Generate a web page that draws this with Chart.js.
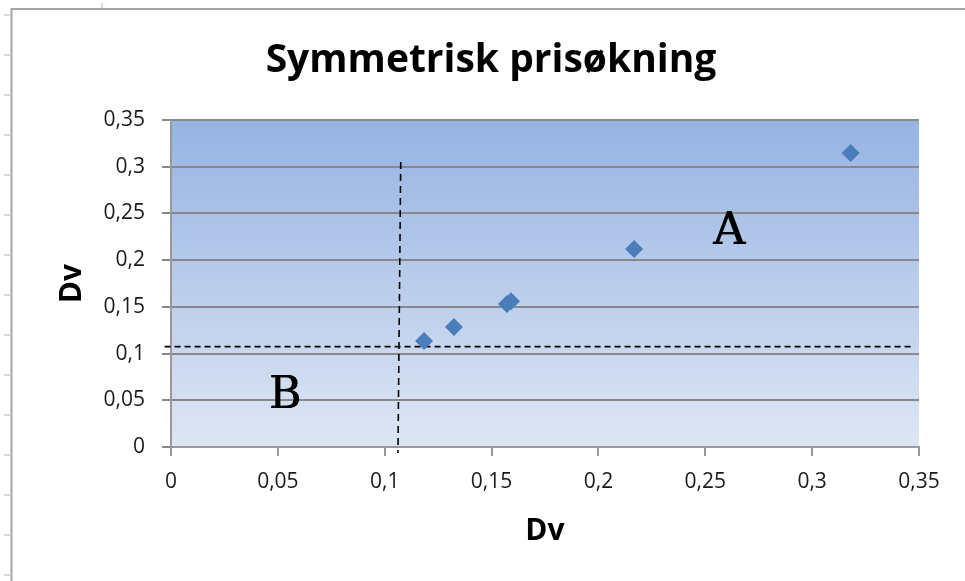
<!DOCTYPE html>
<html>
<head>
<meta charset="utf-8">
<title>Symmetrisk prisøkning</title>
<script src="https://cdn.jsdelivr.net/npm/chart.js@4.4.1/dist/chart.umd.min.js"></script>
<style>
  html, body { margin: 0; padding: 0; background: #fff; }
  #wrap { width: 965px; height: 581px; }
</style>
</head>
<body>
<div id="wrap"><canvas id="graf" width="965" height="581"></canvas></div>
<script>
"use strict";

// ---- data ----
const punktX = [0.1184, 0.1324, 0.1572, 0.1591, 0.2167, 0.318];
const punktY = [0.1135, 0.1285, 0.1531, 0.1559, 0.212, 0.3148];

// dashed guide lines (start / end in data units)
const loddX = [0.1075, 0.1062];
const loddY = [0.305, -0.0065];
const vannX = [-0.003, 0.348];
const vannY = [0.1074, 0.1074];

// region letters
const etiketter = ["A", "B"];
const etikettX = [0.2611, 0.0533];
const etikettY = [0.229, 0.0535];

const aksemin = 0, aksemax = 0.35, steg = 0.05;

const komma = v => String(Number(v.toFixed(2))).replace(".", ",");
const tilPunkter = (xs, ys) => xs.map((x, i) => ({ x, y: ys[i] }));

// gradient behind the plot area
const bakgrunn = {
  id: "bakgrunn",
  beforeDraw(chart) {
    const { ctx, chartArea: a } = chart;
    const g = ctx.createLinearGradient(0, a.top, 0, a.bottom);
    g.addColorStop(0, "#95b3e2");
    g.addColorStop(1, "#dee6f4");
    ctx.save();
    ctx.fillStyle = g;
    ctx.fillRect(a.left, a.top, a.right - a.left, a.bottom - a.top);
    ctx.restore();
  }
};

// sheet frame + the A / B letters
const pynt = {
  id: "pynt",
  afterDraw(chart) {
    const { ctx, scales: { x, y } } = chart;
    ctx.save();
    // little spreadsheet row marks
    ctx.strokeStyle = "#c4cfe0";
    ctx.lineWidth = 1.5;
    for (let yy = 15; yy < 581; yy += 40) {
      ctx.beginPath(); ctx.moveTo(4, yy); ctx.lineTo(10, yy); ctx.stroke();
    }
    ctx.beginPath(); ctx.moveTo(102, 3); ctx.lineTo(102, 8); ctx.stroke();
    // frame
    ctx.strokeStyle = "#a6a6a6";
    ctx.lineWidth = 2;
    ctx.beginPath();
    ctx.moveTo(11.5, 581); ctx.lineTo(11.5, 9); ctx.lineTo(965, 9);
    ctx.stroke();
    // letters
    ctx.fillStyle = "#000";
    ctx.font = "44px 'DejaVu Serif'";
    ctx.textAlign = "center";
    ctx.textBaseline = "middle";
    etiketter.forEach((t, i) => {
      const px = x.getPixelForValue(etikettX[i]);
      const py = y.getPixelForValue(etikettY[i]);
      ctx.fillText(t, px, py);
      ctx.fillText(t, px + 0.8, py);
    });
    ctx.restore();
  }
};

Chart.defaults.font.family = "'Open Sans', sans-serif";
Chart.defaults.color = "#1a1a1a";

new Chart(document.getElementById("graf"), {
  type: "scatter",
  data: {
    datasets: [
      {
        label: "Dv",
        data: tilPunkter(punktX, punktY),
        pointStyle: "rectRot",
        pointRadius: 9,
        pointHoverRadius: 9,
        backgroundColor: "#4a7ebb",
        borderColor: "#4a7ebb",
        borderWidth: 0,
        order: 1
      },
      {
        label: "lodd",
        data: tilPunkter(loddX, loddY),
        showLine: true,
        borderColor: "#000",
        borderWidth: 1.6,
        borderDash: [7, 5],
        pointRadius: 0,
        clip: false,
        order: 2
      },
      {
        label: "vann",
        data: tilPunkter(vannX, vannY),
        showLine: true,
        borderColor: "#000",
        borderWidth: 1.6,
        borderDash: [6, 4],
        pointRadius: 0,
        clip: false,
        order: 2
      }
    ]
  },
  options: {
    responsive: false,
    animation: false,
    layout: { padding: { left: 63, right: 46, top: 0, bottom: 0 } },
    plugins: {
      legend: { display: false },
      tooltip: { enabled: false },
      title: {
        display: true,
        text: "Symmetrisk prisøkning",
        color: "#000",
        font: { size: 39, weight: "bold", lineHeight: 1.2 },
        padding: { top: 37, bottom: 36.2 }
      }
    },
    scales: {
      x: {
        type: "linear",
        min: aksemin,
        max: aksemax,
        ticks: { stepSize: steg, callback: komma, padding: 13, font: { size: 21 }, maxRotation: 0 },
        grid: { drawOnChartArea: false, drawTicks: true, tickLength: 9, color: "#999", lineWidth: 2 },
        border: { display: true, color: "#999", width: 2 },
        title: {
          display: true, text: "Dv", color: "#000",
          font: { size: 30, weight: "bold", lineHeight: 1.2 },
          padding: { top: 0, bottom: 32 }
        },
        afterFit(s) { s.height = 134; }
      },
      y: {
        type: "linear",
        min: aksemin,
        max: aksemax,
        ticks: { stepSize: steg, callback: komma, padding: 17, font: { size: 21 } },
        grid: { color: "#888", lineWidth: 2, tickLength: 9, drawTicks: true },
        border: { display: true, color: "#999", width: 2 },
        title: {
          display: true, text: "Dv", color: "#000",
          font: { size: 30, weight: "bold", lineHeight: 1.2 },
          padding: { top: -9, bottom: 0 }
        },
        afterFit(s) { s.width = 108; }
      }
    }
  },
  plugins: [bakgrunn, pynt]
});
</script>
</body>
</html>
